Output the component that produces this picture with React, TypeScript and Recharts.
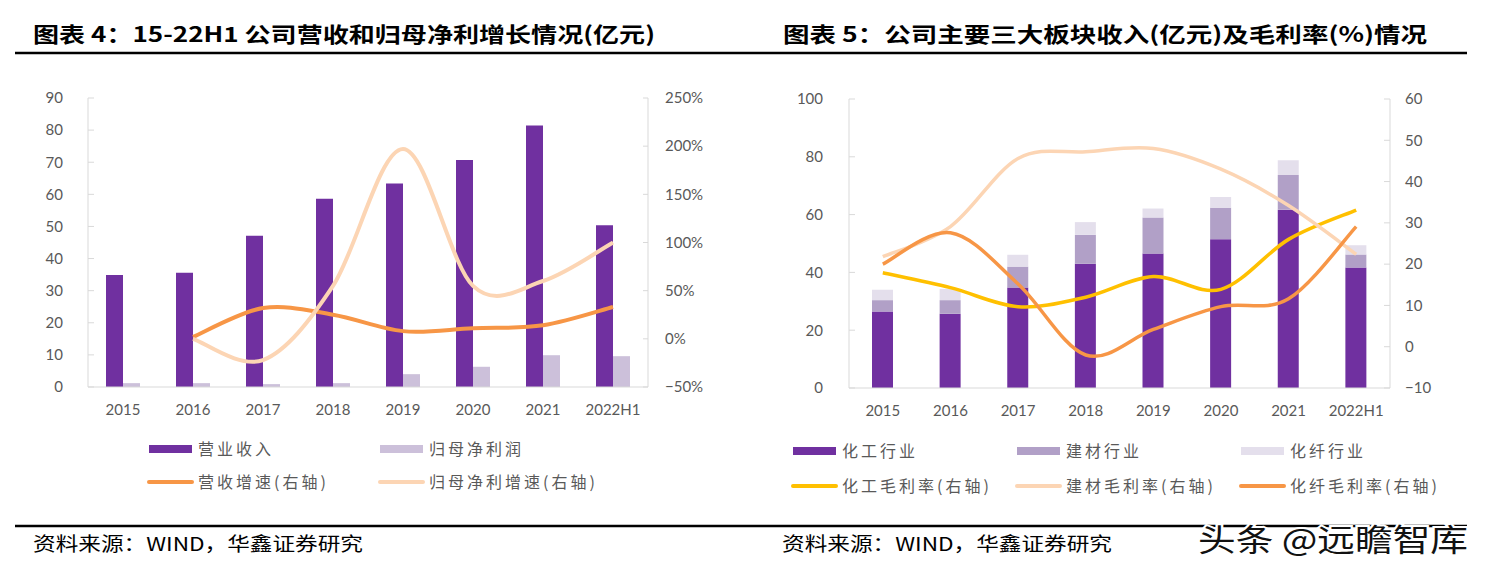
import React from 'react';
import { ComposedChart, Bar, Line, XAxis, YAxis } from 'recharts';

// categories
const years = ['2015', '2016', '2017', '2018', '2019', '2020', '2021', '2022H1'];

// chart 4: revenue / net profit (亿元) and growth (ratio, right axis)
const revenue = [34.9, 35.6, 47.1, 58.6, 63.4, 70.7, 81.4, 50.4];
const netProfit = [1.2, 1.2, 0.9, 1.2, 4.0, 6.3, 9.9, 9.6];
const revenueGrowth = [null, 0.02, 0.32, 0.25, 0.08, 0.11, 0.14, 0.33];
const profitGrowth = [null, 0.0, -0.22, 0.55, 1.97, 0.55, 0.6, 1.0];

// chart 5: segment revenue (亿元) and gross margin (%, right axis)
const chemical = [26.5, 25.7, 34.8, 43.0, 46.5, 51.5, 61.7, 41.7];
const building = [3.9, 4.7, 7.2, 10.0, 12.5, 10.9, 12.0, 4.5];
const fiber = [3.6, 3.9, 4.1, 4.4, 3.1, 3.7, 5.1, 3.2];
const chemicalMargin = [17.9, 14.3, 9.7, 12.0, 17.0, 13.9, 26.0, 33.1];
const buildingMargin = [21.8, 29.1, 45.6, 47.2, 48.0, 43.0, 34.2, 22.4];
const fiberMargin = [20.0, 27.6, 15.2, -2.0, 4.2, 9.7, 11.6, 29.1];

// tick labels
const leftTicks4 = [0, 10, 20, 30, 40, 50, 60, 70, 80, 90];
const rightTicks4 = [-0.5, 0, 0.5, 1, 1.5, 2, 2.5];
const leftTicks5 = [0, 20, 40, 60, 80, 100];
const rightTicks5 = [-10, 0, 10, 20, 30, 40, 50, 60];

const PURPLE = '#7030A0';
const LIGHT_PURPLE = '#CCC0DA';
const MID_PURPLE = '#B1A0C7';
const PALE_PURPLE = '#E4DFEC';
const ORANGE = '#F79646';
const PEACH = '#FCD5B4';
const YELLOW = '#FFC000';
const AXIS = '#D9D9D9';
const TICK = { fontSize: 15, fill: '#595959', fontFamily: 'Lato, sans-serif' };
const CJK = '"Noto Sans CJK SC", sans-serif';

const data4 = years.map((year, i) => ({
  year,
  revenue: revenue[i],
  netProfit: netProfit[i],
  revenueGrowth: revenueGrowth[i],
  profitGrowth: profitGrowth[i],
}));

const data5 = years.map((year, i) => ({
  year,
  chemical: chemical[i],
  building: building[i],
  fiber: fiber[i],
  chemicalMargin: chemicalMargin[i],
  buildingMargin: buildingMargin[i],
  fiberMargin: fiberMargin[i],
}));

const minus = (s: string) => s.replace('-', '\u2212');

// Excel style smoothed line (Catmull-Rom through every point)
function excelSmooth(context: any) {
  let pts: number[][] = [];
  return {
    areaStart() {},
    areaEnd() {},
    lineStart() {
      pts = [];
    },
    lineEnd() {
      const n = pts.length;
      if (!n) return;
      context.moveTo(pts[0][0], pts[0][1]);
      for (let i = 0; i < n - 1; i++) {
        const p0 = pts[Math.max(i - 1, 0)];
        const p1 = pts[i];
        const p2 = pts[i + 1];
        const p3 = pts[Math.min(i + 2, n - 1)];
        context.bezierCurveTo(
          p1[0] + (p2[0] - p0[0]) / 6,
          p1[1] + (p2[1] - p0[1]) / 6,
          p2[0] - (p3[0] - p1[0]) / 6,
          p2[1] - (p3[1] - p1[1]) / 6,
          p2[0],
          p2[1]
        );
      }
    },
    point(x: number, y: number) {
      pts.push([+x, +y]);
    },
  };
}

function LegendItem({ x, y, kind, color, label }: { x: number; y: number; kind: 'bar' | 'line'; color: string; label: string }) {
  return (
    <g>
      {kind === 'bar' ? (
        <rect x={x} y={y - 4} width={43} height={8} fill={color} />
      ) : (
        <line x1={x} x2={x + 43} y1={y} y2={y} stroke={color} strokeWidth={4} strokeLinecap="round" />
      )}
      <text x={x + 49} y={y + 6} fontSize={16} fill="#595959" fontFamily={CJK} letterSpacing={3}>
        {label}
      </text>
    </g>
  );
}

export default function App() {
  return (
    <div style={{ position: 'absolute', left: 0, top: 0, width: 1486, height: 569, background: '#fff', overflow: 'hidden' }}>
      {/* 图表4 */}
      <div style={{ position: 'absolute', left: 0, top: 0 }}>
        <ComposedChart width={743} height={430} data={data4} margin={{ top: 98, right: 0, bottom: 13, left: 0 }} barGap={0}>
          <XAxis dataKey="year" tick={TICK} tickLine={false} tickMargin={11} axisLine={{ stroke: AXIS }} height={30} interval={0} />
          <YAxis
            yAxisId="left"
            width={88}
            domain={[0, 90]}
            ticks={leftTicks4}
            tick={TICK}
            tickSize={-6}
            tickMargin={31}
            tickLine={{ stroke: AXIS }}
            axisLine={{ stroke: AXIS }}
          />
          <YAxis
            yAxisId="right"
            orientation="right"
            width={95}
            domain={[-0.5, 2.5]}
            ticks={rightTicks4}
            tick={{ ...TICK, textAnchor: 'start' }}
            tickFormatter={(v: number) => minus(`${Math.round(v * 100)}%`)}
            tickSize={-5}
            tickMargin={22}
            tickLine={{ stroke: AXIS }}
            axisLine={{ stroke: AXIS }}
          />
          <Bar yAxisId="left" dataKey="revenue" fill={PURPLE} barSize={17} isAnimationActive={false} />
          <Bar yAxisId="left" dataKey="netProfit" fill={LIGHT_PURPLE} barSize={17} isAnimationActive={false} />
          <Line yAxisId="right" dataKey="revenueGrowth" type={excelSmooth as any} stroke={ORANGE} strokeWidth={4} dot={false} activeDot={false} isAnimationActive={false} />
          <Line yAxisId="right" dataKey="profitGrowth" type={excelSmooth as any} stroke={PEACH} strokeWidth={4} dot={false} activeDot={false} isAnimationActive={false} />
        </ComposedChart>
      </div>

      {/* 图表5 */}
      <div style={{ position: 'absolute', left: 743, top: 0 }}>
        <ComposedChart width={743} height={430} data={data5} margin={{ top: 99, right: 0, bottom: 12, left: 0 }}>
          <XAxis dataKey="year" tick={TICK} tickLine={false} tickMargin={11} axisLine={{ stroke: AXIS }} height={30} interval={0} />
          <YAxis
            yAxisId="left"
            width={106}
            domain={[0, 100]}
            ticks={leftTicks5}
            tick={TICK}
            tickSize={-6}
            tickMargin={32}
            tickLine={{ stroke: AXIS }}
            axisLine={{ stroke: AXIS }}
          />
          <YAxis
            yAxisId="right"
            orientation="right"
            width={96}
            domain={[-10, 60]}
            ticks={rightTicks5}
            tick={{ ...TICK, textAnchor: 'start' }}
            tickFormatter={(v: number) => minus(String(v))}
            tickSize={-6}
            tickMargin={21}
            tickLine={{ stroke: AXIS }}
            axisLine={{ stroke: AXIS }}
          />
          <Bar yAxisId="left" dataKey="chemical" stackId="s" fill={PURPLE} barSize={21} isAnimationActive={false} />
          <Bar yAxisId="left" dataKey="building" stackId="s" fill={MID_PURPLE} barSize={21} isAnimationActive={false} />
          <Bar yAxisId="left" dataKey="fiber" stackId="s" fill={PALE_PURPLE} barSize={21} isAnimationActive={false} />
          <Line yAxisId="right" dataKey="chemicalMargin" type={excelSmooth as any} stroke={YELLOW} strokeWidth={3.5} dot={false} activeDot={false} isAnimationActive={false} />
          <Line yAxisId="right" dataKey="buildingMargin" type={excelSmooth as any} stroke={PEACH} strokeWidth={3.5} dot={false} activeDot={false} isAnimationActive={false} />
          <Line yAxisId="right" dataKey="fiberMargin" type={excelSmooth as any} stroke={ORANGE} strokeWidth={3.5} dot={false} activeDot={false} isAnimationActive={false} />
        </ComposedChart>
      </div>

      {/* titles, rules, legends, sources */}
      <svg width={1486} height={569} style={{ position: 'absolute', left: 0, top: 0, pointerEvents: 'none' }}>
        <text x={33} y={42} fontSize={21} fontWeight={700} fontFamily={CJK} fill="#000" textLength={622} lengthAdjust="spacingAndGlyphs">
          图表 4：15-22H1 公司营收和归母净利增长情况(亿元)
        </text>
        <text x={783} y={42} fontSize={21} fontWeight={700} fontFamily={CJK} fill="#000" textLength={644} lengthAdjust="spacingAndGlyphs">
          图表 5：公司主要三大板块收入(亿元)及毛利率(%)情况
        </text>
        <line x1={15} x2={1467} y1={53} y2={53} stroke="#000" strokeWidth={2.5} />
        <line x1={15} x2={1467} y1={526} y2={526} stroke="#000" strokeWidth={2.5} />

        <LegendItem x={149} y={449} kind="bar" color={PURPLE} label="营业收入" />
        <LegendItem x={380} y={449} kind="bar" color={LIGHT_PURPLE} label="归母净利润" />
        <LegendItem x={149} y={482} kind="line" color={ORANGE} label="营收增速(右轴)" />
        <LegendItem x={380} y={482} kind="line" color={PEACH} label="归母净利增速(右轴)" />

        <LegendItem x={793} y={451} kind="bar" color={PURPLE} label="化工行业" />
        <LegendItem x={1017} y={451} kind="bar" color={MID_PURPLE} label="建材行业" />
        <LegendItem x={1241} y={451} kind="bar" color={PALE_PURPLE} label="化纤行业" />
        <LegendItem x={793} y={486} kind="line" color={YELLOW} label="化工毛利率(右轴)" />
        <LegendItem x={1017} y={486} kind="line" color={PEACH} label="建材毛利率(右轴)" />
        <LegendItem x={1241} y={486} kind="line" color={ORANGE} label="化纤毛利率(右轴)" />

        <text x={33} y={551} fontSize={19} fontFamily={CJK} fill="#000" textLength={330} lengthAdjust="spacingAndGlyphs">
          资料来源：WIND，华鑫证券研究
        </text>
        <text x={782} y={551} fontSize={19} fontFamily={CJK} fill="#000" textLength={330} lengthAdjust="spacingAndGlyphs">
          资料来源：WIND，华鑫证券研究
        </text>
        <text
          x={1198}
          y={551}
          fontSize={31}
          fontFamily={CJK}
          fill="#111"
          stroke="#fff"
          strokeWidth={4}
          paintOrder="stroke"
          textLength={270}
          lengthAdjust="spacingAndGlyphs"
        >
          头条 @远瞻智库
        </text>
      </svg>
    </div>
  );
}
